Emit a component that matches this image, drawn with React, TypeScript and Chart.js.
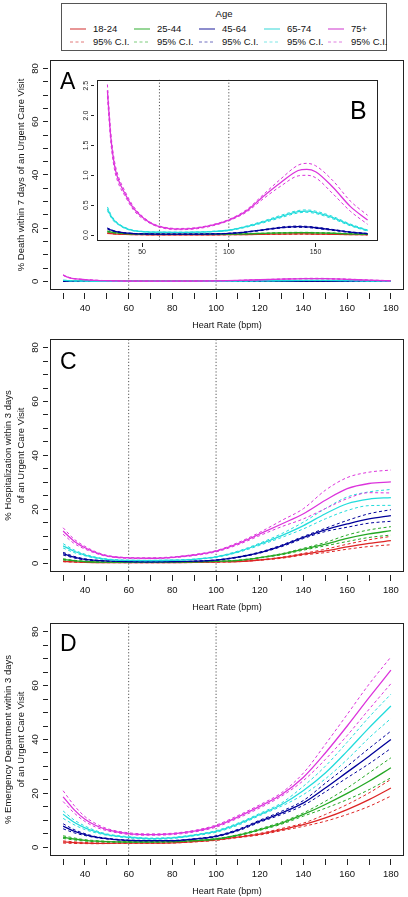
import React, { useEffect, useRef } from "react";
import { Chart, registerables } from "chart.js";

Chart.register(...registerables);

const FONT = '"Liberation Sans", Arial, Helvetica, sans-serif';

// ---------------- categories / styling keys ----------------
const AGE_GROUPS = ["18-24", "25-44", "45-64", "65-74", "75+"];
const CI_LABEL = "95% C.I.";
const LEGEND_TITLE = "Age";
const X_TITLE = "Heart Rate (bpm)";
const Y_TITLE_A = "% Death within 7 days of an Urgent Care Visit";
const Y_TITLE_C = ["% Hospitalization within 3 days", "of an Urgent Care Visit"];
const Y_TITLE_D = ["% Emergency Department within 3 days", "of an Urgent Care Visit"];
const LINE_COLORS = ["#dd2424", "#24a824", "#00009a", "#22dcdc", "#dc34dc"];
const LEGEND_COLORS = ["#e27b7b", "#7dcc7d", "#7070c0", "#7fe6e6", "#e07fe0"];

// ---------------- ticks ----------------
const X_TICKS = [30, 40, 50, 60, 70, 80, 90, 100, 110, 120, 130, 140, 150, 160, 170, 180];
const X_LABELED = [40, 60, 80, 100, 120, 140, 160, 180];
const Y_TICKS = [0, 5, 10, 15, 20, 25, 30, 35, 40, 45, 50, 55, 60, 65, 70, 75, 80];
const Y_LABELED = [0, 20, 40, 60, 80];
const B_X_TICKS = [50, 100, 150];
const B_Y_TICKS = [0, 0.5, 1, 1.5, 2, 2.5];
const REF_HR = [60, 100];

// ---------------- Panel A / B : death within 7 days ----------------
const HR_A = [30, 31, 32, 34, 36, 40, 45, 50, 55, 60, 70, 80, 90, 100, 110, 120, 130, 140, 145, 150, 160, 170, 180];
const A_18_24 = [0.03, 0.028, 0.025, 0.02, 0.016, 0.012, 0.008, 0.006, 0.005, 0.005, 0.005, 0.005, 0.005, 0.006, 0.008, 0.012, 0.016, 0.018, 0.018, 0.016, 0.012, 0.008, 0.005];
const A_18_24_HI = [0.036, 0.033, 0.03, 0.024, 0.019, 0.014, 0.01, 0.007, 0.006, 0.006, 0.006, 0.006, 0.006, 0.007, 0.01, 0.014, 0.019, 0.021, 0.021, 0.019, 0.015, 0.01, 0.007];
const A_18_24_LO = [0.024, 0.023, 0.02, 0.016, 0.013, 0.01, 0.006, 0.005, 0.004, 0.004, 0.004, 0.004, 0.004, 0.005, 0.006, 0.01, 0.013, 0.015, 0.015, 0.013, 0.009, 0.006, 0.003];
const A_25_44 = [0.06, 0.055, 0.05, 0.04, 0.034, 0.025, 0.018, 0.014, 0.012, 0.011, 0.01, 0.01, 0.011, 0.014, 0.02, 0.028, 0.036, 0.04, 0.04, 0.037, 0.03, 0.02, 0.012];
const A_25_44_HI = [0.068, 0.062, 0.056, 0.045, 0.038, 0.028, 0.02, 0.016, 0.013, 0.012, 0.011, 0.011, 0.012, 0.016, 0.022, 0.031, 0.04, 0.045, 0.045, 0.042, 0.034, 0.023, 0.015];
const A_25_44_LO = [0.052, 0.048, 0.044, 0.035, 0.03, 0.022, 0.016, 0.012, 0.011, 0.01, 0.009, 0.009, 0.01, 0.012, 0.018, 0.025, 0.032, 0.035, 0.035, 0.032, 0.026, 0.017, 0.009];
const A_45_64 = [0.11, 0.095, 0.085, 0.065, 0.052, 0.035, 0.025, 0.02, 0.017, 0.016, 0.015, 0.016, 0.019, 0.028, 0.05, 0.085, 0.125, 0.14, 0.135, 0.122, 0.085, 0.048, 0.022];
const A_45_64_HI = [0.12, 0.104, 0.093, 0.071, 0.057, 0.038, 0.027, 0.022, 0.018, 0.017, 0.016, 0.017, 0.02, 0.03, 0.054, 0.091, 0.133, 0.15, 0.145, 0.132, 0.093, 0.054, 0.026];
const A_45_64_LO = [0.1, 0.086, 0.077, 0.059, 0.047, 0.032, 0.023, 0.018, 0.016, 0.015, 0.014, 0.015, 0.018, 0.026, 0.046, 0.079, 0.117, 0.13, 0.125, 0.112, 0.077, 0.042, 0.018];
const A_65_74 = [0.44, 0.38, 0.32, 0.24, 0.19, 0.12, 0.075, 0.058, 0.05, 0.047, 0.045, 0.048, 0.058, 0.08, 0.14, 0.22, 0.31, 0.39, 0.4, 0.38, 0.29, 0.17, 0.075];
const A_65_74_HI = [0.47, 0.41, 0.34, 0.26, 0.2, 0.13, 0.08, 0.062, 0.053, 0.05, 0.048, 0.051, 0.062, 0.085, 0.15, 0.235, 0.33, 0.41, 0.42, 0.4, 0.31, 0.185, 0.085];
const A_65_74_LO = [0.41, 0.35, 0.3, 0.22, 0.18, 0.11, 0.07, 0.054, 0.047, 0.044, 0.042, 0.045, 0.054, 0.075, 0.13, 0.205, 0.29, 0.37, 0.38, 0.36, 0.27, 0.155, 0.065];
const A_75P = [2.42, 2.0, 1.62, 1.18, 0.95, 0.7, 0.45, 0.3, 0.2, 0.14, 0.1, 0.11, 0.16, 0.25, 0.4, 0.65, 0.88, 1.08, 1.1, 1.06, 0.8, 0.48, 0.25];
const A_75P_HI = [2.52, 2.09, 1.7, 1.25, 1.01, 0.74, 0.48, 0.32, 0.21, 0.15, 0.11, 0.12, 0.17, 0.26, 0.42, 0.68, 0.94, 1.17, 1.2, 1.16, 0.91, 0.57, 0.33];
const A_75P_LO = [2.32, 1.91, 1.54, 1.11, 0.89, 0.66, 0.42, 0.28, 0.19, 0.13, 0.09, 0.1, 0.15, 0.24, 0.38, 0.61, 0.82, 0.99, 1.0, 0.96, 0.69, 0.4, 0.18];

// ---------------- Panels C / D ----------------
const HR_CD = [30, 35, 40, 45, 50, 60, 70, 80, 90, 100, 110, 120, 130, 140, 150, 160, 170, 180];

// C: hospitalization within 3 days
const C_18_24 = [0.75, 0.55, 0.4, 0.32, 0.3, 0.28, 0.28, 0.3, 0.35, 0.5, 0.7, 1.25, 2.1, 3.4, 4.6, 6.1, 7.4, 8.4];
const C_18_24_HI = [0.9, 0.65, 0.47, 0.37, 0.34, 0.32, 0.32, 0.34, 0.4, 0.55, 0.78, 1.35, 2.3, 3.7, 5.25, 7.1, 8.75, 10.0];
const C_18_24_LO = [0.6, 0.45, 0.33, 0.27, 0.26, 0.24, 0.24, 0.26, 0.3, 0.45, 0.62, 1.15, 1.9, 3.1, 4.0, 5.25, 6.25, 6.9];
const C_25_44 = [1.5, 1.0, 0.7, 0.5, 0.45, 0.4, 0.4, 0.45, 0.55, 0.75, 1.1, 2.1, 3.4, 5.25, 7.1, 9.25, 10.9, 12.1];
const C_25_44_HI = [1.7, 1.15, 0.8, 0.55, 0.5, 0.45, 0.45, 0.5, 0.6, 0.8, 1.2, 2.2, 3.6, 5.6, 7.75, 10.5, 12.4, 13.6];
const C_25_44_LO = [1.3, 0.9, 0.6, 0.45, 0.4, 0.35, 0.35, 0.4, 0.5, 0.7, 1.0, 2.0, 3.2, 4.9, 6.5, 8.1, 9.6, 10.5];
const C_45_64 = [3.6, 2.3, 1.5, 1.1, 0.9, 0.65, 0.6, 0.65, 0.8, 1.2, 2.3, 4.0, 6.5, 9.6, 12.4, 14.6, 16.5, 17.7];
const C_45_64_HI = [4.1, 2.6, 1.7, 1.2, 0.95, 0.7, 0.65, 0.7, 0.85, 1.3, 2.45, 4.2, 6.8, 10.0, 13.0, 15.9, 18.4, 19.9];
const C_45_64_LO = [3.1, 2.0, 1.3, 1.0, 0.85, 0.6, 0.55, 0.6, 0.75, 1.1, 2.15, 3.8, 6.2, 9.2, 11.8, 13.4, 14.9, 15.6];
const C_65_74 = [6.5, 4.5, 3.1, 2.1, 1.5, 1.1, 1.05, 1.15, 1.5, 2.4, 4.3, 7.1, 10.3, 14.0, 18.4, 22.1, 23.8, 24.4];
const C_65_74_HI = [7.3, 5.0, 3.4, 2.3, 1.65, 1.2, 1.15, 1.25, 1.6, 2.55, 4.55, 7.5, 11.0, 15.3, 20.3, 24.6, 26.5, 27.4];
const C_65_74_LO = [5.7, 4.0, 2.8, 1.9, 1.35, 1.0, 0.95, 1.05, 1.4, 2.25, 4.05, 6.7, 9.6, 12.8, 16.5, 19.6, 21.4, 21.5];
const C_75P = [12.0, 8.2, 5.8, 4.0, 2.8, 2.0, 1.9, 2.25, 3.1, 4.5, 7.3, 10.9, 14.6, 18.4, 23.4, 27.7, 29.6, 30.2];
const C_75P_HI = [13.2, 9.0, 6.3, 4.3, 3.0, 2.15, 2.05, 2.4, 3.3, 4.75, 7.7, 11.5, 15.9, 20.3, 27.1, 31.8, 33.8, 34.6];
const C_75P_LO = [10.8, 7.4, 5.3, 3.7, 2.6, 1.85, 1.75, 2.1, 2.9, 4.25, 6.9, 10.3, 13.6, 16.5, 20.3, 24.0, 26.2, 26.1];

// D: emergency department within 3 days
const D_18_24 = [2.0, 1.75, 1.6, 1.5, 1.5, 1.6, 1.6, 1.7, 2.1, 2.75, 3.8, 4.9, 6.6, 8.4, 10.9, 14.0, 17.7, 22.0];
const D_18_24_HI = [2.4, 2.05, 1.8, 1.65, 1.6, 1.7, 1.7, 1.8, 2.2, 2.9, 4.0, 5.2, 7.0, 9.0, 12.2, 15.9, 20.2, 25.2];
const D_18_24_LO = [1.6, 1.45, 1.4, 1.35, 1.4, 1.5, 1.5, 1.6, 2.0, 2.6, 3.6, 4.6, 6.2, 7.8, 9.7, 12.2, 15.2, 19.0];
const D_25_44 = [3.75, 3.1, 2.6, 2.3, 2.1, 2.0, 2.0, 2.1, 2.5, 3.1, 4.5, 6.6, 9.0, 12.2, 15.9, 20.0, 24.5, 29.5];
const D_25_44_HI = [4.3, 3.5, 2.85, 2.5, 2.25, 2.1, 2.1, 2.2, 2.6, 3.25, 4.7, 6.9, 9.4, 12.8, 17.1, 22.0, 27.6, 33.2];
const D_25_44_LO = [3.3, 2.75, 2.35, 2.1, 1.95, 1.9, 1.9, 2.0, 2.4, 2.95, 4.3, 6.3, 8.6, 11.6, 14.5, 17.7, 21.4, 25.8];
const D_45_64 = [7.9, 6.0, 4.75, 3.8, 3.25, 2.6, 2.5, 2.5, 3.1, 4.1, 6.4, 9.7, 12.8, 16.5, 22.0, 27.9, 33.8, 40.0];
const D_45_64_HI = [8.75, 6.6, 5.1, 4.0, 3.4, 2.7, 2.6, 2.6, 3.2, 4.3, 6.7, 10.1, 13.4, 17.4, 23.8, 30.1, 36.7, 43.1];
const D_45_64_LO = [6.9, 5.4, 4.4, 3.6, 3.1, 2.5, 2.4, 2.4, 3.0, 3.9, 6.1, 9.3, 12.2, 15.6, 20.6, 25.8, 31.0, 36.7];
const D_65_74 = [12.25, 9.3, 7.25, 5.8, 4.75, 3.75, 3.25, 3.5, 4.5, 5.9, 8.6, 12.2, 15.9, 21.1, 27.6, 35.7, 44.3, 52.4];
const D_65_74_HI = [13.5, 10.2, 7.9, 6.2, 5.0, 3.95, 3.45, 3.7, 4.7, 6.2, 9.0, 12.6, 16.5, 22.7, 30.1, 39.0, 48.3, 56.8];
const D_65_74_LO = [10.75, 8.4, 6.6, 5.4, 4.5, 3.55, 3.05, 3.3, 4.3, 5.6, 8.2, 11.8, 15.3, 19.6, 25.4, 32.6, 40.6, 47.8];
const D_75P = [18.75, 14.0, 10.4, 8.1, 6.6, 5.1, 4.75, 5.0, 6.0, 7.9, 11.3, 15.2, 19.6, 26.0, 35.0, 45.0, 55.5, 65.7];
const D_75P_HI = [21.0, 15.6, 11.4, 8.8, 7.0, 5.4, 5.0, 5.25, 6.3, 8.3, 11.8, 15.8, 20.3, 27.6, 38.2, 49.3, 60.5, 70.6];
const D_75P_LO = [17.0, 12.8, 9.6, 7.5, 6.2, 4.8, 4.5, 4.75, 5.7, 7.5, 10.8, 14.6, 19.0, 24.8, 32.6, 41.5, 51.2, 60.7];

// ---------------- helpers ----------------
type Series = { mean: number[]; hi: number[]; lo: number[] };

const GROUPS_A: Series[] = [
  { mean: A_18_24, hi: A_18_24_HI, lo: A_18_24_LO },
  { mean: A_25_44, hi: A_25_44_HI, lo: A_25_44_LO },
  { mean: A_45_64, hi: A_45_64_HI, lo: A_45_64_LO },
  { mean: A_65_74, hi: A_65_74_HI, lo: A_65_74_LO },
  { mean: A_75P, hi: A_75P_HI, lo: A_75P_LO },
];
const GROUPS_C: Series[] = [
  { mean: C_18_24, hi: C_18_24_HI, lo: C_18_24_LO },
  { mean: C_25_44, hi: C_25_44_HI, lo: C_25_44_LO },
  { mean: C_45_64, hi: C_45_64_HI, lo: C_45_64_LO },
  { mean: C_65_74, hi: C_65_74_HI, lo: C_65_74_LO },
  { mean: C_75P, hi: C_75P_HI, lo: C_75P_LO },
];
const GROUPS_D: Series[] = [
  { mean: D_18_24, hi: D_18_24_HI, lo: D_18_24_LO },
  { mean: D_25_44, hi: D_25_44_HI, lo: D_25_44_LO },
  { mean: D_45_64, hi: D_45_64_HI, lo: D_45_64_LO },
  { mean: D_65_74, hi: D_65_74_HI, lo: D_65_74_LO },
  { mean: D_75P, hi: D_75P_HI, lo: D_75P_LO },
];

function lineDs(hr: number[], ys: number[], color: string, dashed: boolean, label: string) {
  return {
    label,
    data: hr.map((x, i) => ({ x, y: ys[i] })),
    borderColor: color,
    backgroundColor: color,
    borderWidth: dashed ? 1 : 1.3,
    borderDash: dashed ? [3, 2.5] : [],
    pointRadius: 0,
    cubicInterpolationMode: "monotone",
    fill: false,
  };
}

function makeDatasets(hr: number[], groups: Series[], refLo: number, refHi: number) {
  const ds: any[] = [];
  for (let g = groups.length - 1; g >= 0; g--) {
    const c = LINE_COLORS[g];
    ds.push(lineDs(hr, groups[g].mean, c, false, AGE_GROUPS[g]));
    ds.push(lineDs(hr, groups[g].hi, c, true, AGE_GROUPS[g] + " " + CI_LABEL));
    ds.push(lineDs(hr, groups[g].lo, c, true, AGE_GROUPS[g] + " " + CI_LABEL));
  }
  REF_HR.forEach((v) =>
    ds.push({
      label: "ref " + v,
      data: [
        { x: v, y: refLo },
        { x: v, y: refHi },
      ],
      borderColor: "#555",
      borderWidth: 1,
      borderDash: [1.2, 2],
      pointRadius: 0,
      fill: false,
    })
  );
  return ds;
}

function framePlugin(letter: string, dx: number, dy: number, size: number, fromRight: boolean, whiteBg: boolean) {
  return {
    id: "frame",
    beforeDraw(chart: any) {
      if (!whiteBg) return;
      const { ctx, chartArea: a } = chart;
      ctx.save();
      ctx.fillStyle = "#fff";
      ctx.fillRect(a.left, a.top, a.right - a.left, a.bottom - a.top);
      ctx.restore();
    },
    afterDraw(chart: any) {
      const { ctx, chartArea: a } = chart;
      ctx.save();
      ctx.strokeStyle = "#222";
      ctx.lineWidth = 1;
      ctx.setLineDash([]);
      ctx.strokeRect(Math.round(a.left) + 0.5, Math.round(a.top) + 0.5, Math.round(a.right - a.left) - 1, Math.round(a.bottom - a.top) - 1);
      ctx.fillStyle = "#000";
      ctx.font = `${size}px ${FONT}`;
      ctx.textBaseline = "alphabetic";
      ctx.textAlign = "left";
      const x = fromRight ? a.right - dx : a.left + dx;
      ctx.fillText(letter, x, a.top + dy);
      ctx.restore();
    },
  };
}

type MainSpec = {
  hr: number[];
  groups: Series[];
  yTitle: string | string[];
  titlePad: number;
  padTop: number;
  letter: string;
  letterDy: number;
  refHi: number;
};

function mainConfig(s: MainSpec): any {
  return {
    type: "line",
    data: { datasets: makeDatasets(s.hr, s.groups, -4, s.refHi) },
    options: {
      responsive: false,
      maintainAspectRatio: false,
      animation: false,
      devicePixelRatio: 1,
      events: [],
      layout: { autoPadding: false, padding: { top: s.padTop, right: 4, left: 0, bottom: 0 } },
      plugins: { legend: { display: false }, tooltip: { enabled: false }, title: { display: false } },
      scales: {
        x: {
          type: "linear",
          min: 24,
          max: 186,
          afterBuildTicks: (sc: any) => {
            sc.ticks = X_TICKS.map((v) => ({ value: v }));
          },
          afterFit: (sc: any) => {
            sc.height = 41;
          },
          border: { display: false },
          grid: {
            display: true,
            drawOnChartArea: false,
            drawTicks: true,
            tickLength: 9,
            tickColor: "#222",
            tickWidth: 1,
            tickBorderDash: [0, 3, 6, 40],
          },
          ticks: {
            autoSkip: false,
            maxRotation: 0,
            minRotation: 0,
            padding: 4,
            color: "#111",
            font: { family: FONT, size: 9.5 },
            callback: (v: any) => (X_LABELED.includes(Number(v)) ? String(v) : ""),
          },
          title: {
            display: true,
            text: X_TITLE,
            color: "#111",
            font: { family: FONT, size: 9 },
            padding: 0,
          },
        },
        y: {
          type: "linear",
          min: -3.2,
          max: 83.2,
          afterBuildTicks: (sc: any) => {
            sc.ticks = Y_TICKS.map((v) => ({ value: v }));
          },
          afterFit: (sc: any) => {
            sc.width = 50;
          },
          border: { display: false },
          grid: {
            display: true,
            drawOnChartArea: false,
            drawTicks: true,
            tickLength: 7,
            tickColor: "#222",
            tickWidth: 1,
            tickBorderDash: [5, 40],
          },
          ticks: {
            autoSkip: false,
            minRotation: 90,
            maxRotation: 90,
            crossAlign: "center",
            padding: 2.2,
            color: "#111",
            font: { family: FONT, size: 9.5 },
            callback: (v: any) => (Y_LABELED.includes(Number(v)) ? String(v) : ""),
          },
          title: {
            display: true,
            text: s.yTitle,
            color: "#111",
            font: { family: FONT, size: 9.5, lineHeight: 1.41 },
            padding: { top: s.titlePad, bottom: 0 },
          },
        },
      },
    },
    plugins: [framePlugin(s.letter, 10, s.letterDy, 23, false, false)],
  };
}

function insetConfig(): any {
  return {
    type: "line",
    data: { datasets: makeDatasets(HR_A, GROUPS_A, -0.2, 2.8) },
    options: {
      responsive: false,
      maintainAspectRatio: false,
      animation: false,
      devicePixelRatio: 1,
      events: [],
      layout: { autoPadding: false, padding: { top: 4, right: 4, left: 0, bottom: 0 } },
      plugins: { legend: { display: false }, tooltip: { enabled: false }, title: { display: false } },
      scales: {
        x: {
          type: "linear",
          min: 24,
          max: 186,
          afterBuildTicks: (sc: any) => {
            sc.ticks = B_X_TICKS.map((v) => ({ value: v }));
          },
          afterFit: (sc: any) => {
            sc.height = 24;
          },
          border: { display: false },
          grid: {
            display: true,
            drawOnChartArea: false,
            tickLength: 6,
            tickColor: "#222",
            tickBorderDash: [0, 2, 4, 40],
          },
          ticks: {
            autoSkip: false,
            maxRotation: 0,
            minRotation: 0,
            padding: 1,
            color: "#222",
            font: { family: FONT, size: 7 },
            callback: (v: any) => String(v),
          },
        },
        y: {
          type: "linear",
          min: -0.1,
          max: 2.6,
          afterBuildTicks: (sc: any) => {
            sc.ticks = B_Y_TICKS.map((v) => ({ value: v }));
          },
          afterFit: (sc: any) => {
            sc.width = 27;
          },
          border: { display: false },
          grid: {
            display: true,
            drawOnChartArea: false,
            tickLength: 6,
            tickColor: "#222",
            tickBorderDash: [3, 40],
          },
          ticks: {
            autoSkip: false,
            minRotation: 90,
            maxRotation: 90,
            crossAlign: "center",
            padding: 0.5,
            color: "#222",
            font: { family: FONT, size: 7 },
            callback: (v: any) => Number(v).toFixed(1),
          },
        },
      },
    },
    plugins: [framePlugin("B", 28, 39, 25, true, true)],
  };
}

function ChartCanvas(props: { left: number; top: number; width: number; height: number; build: () => any; z?: number }) {
  const ref = useRef<HTMLCanvasElement | null>(null);
  useEffect(() => {
    if (!ref.current) return;
    const chart = new Chart(ref.current, props.build());
    return () => chart.destroy();
  }, []);
  return (
    <canvas
      ref={ref}
      width={props.width}
      height={props.height}
      style={{
        position: "absolute",
        left: props.left,
        top: props.top,
        width: props.width,
        height: props.height,
        zIndex: props.z ?? 1,
      }}
    />
  );
}

function LegendBox() {
  const textStarts = [93, 157, 222, 287, 351];
  const boxLeft = 62;
  const boxTop = 4;
  const rows = [25.3, 37.7];
  return (
    <div
      style={{
        position: "absolute",
        left: 61,
        top: 3,
        width: 326,
        height: 48,
        border: "1px solid #555",
        boxSizing: "border-box",
        fontFamily: FONT,
        fontSize: 9.5,
        color: "#111",
        background: "#fff",
        zIndex: 3,
      }}
    >
      <div style={{ position: "absolute", left: 0, top: 3.5, width: "100%", textAlign: "center", lineHeight: "12px" }}>
        {LEGEND_TITLE}
      </div>
      {AGE_GROUPS.map((g, i) =>
        [g, CI_LABEL].map((txt, r) => (
          <React.Fragment key={g + r}>
            <svg
              width={16}
              height={4}
              style={{ position: "absolute", left: textStarts[i] - 23 - boxLeft, top: rows[r] - 2 }}
            >
              <line
                x1={0}
                y1={2}
                x2={16}
                y2={2}
                stroke={LEGEND_COLORS[i]}
                strokeWidth={r === 0 ? 1.6 : 1}
                strokeDasharray={r === 0 ? undefined : "3 2.5"}
              />
            </svg>
            <div
              style={{
                position: "absolute",
                left: textStarts[i] - boxLeft,
                top: rows[r] - 6 - 0 * boxTop,
                lineHeight: "12px",
                whiteSpace: "nowrap",
              }}
            >
              {txt}
            </div>
          </React.Fragment>
        ))
      )}
    </div>
  );
}

export default function App() {
  return (
    <div
      style={{
        position: "absolute",
        left: 0,
        top: 0,
        width: 408,
        height: 897,
        background: "#fff",
        overflow: "hidden",
        fontFamily: FONT,
      }}
    >
      <LegendBox />
      <ChartCanvas
        left={0}
        top={52}
        width={408}
        height={279}
        build={() =>
          mainConfig({
            hr: HR_A,
            groups: GROUPS_A,
            yTitle: Y_TITLE_A,
            titlePad: 15,
            padTop: 6,
            letter: "A",
            letterDy: 29,
            refHi: 14.5,
          })
        }
      />
      <ChartCanvas left={70} top={75} width={312} height={190} build={insetConfig} z={2} />
      <ChartCanvas
        left={0}
        top={331}
        width={408}
        height={282}
        build={() =>
          mainConfig({
            hr: HR_CD,
            groups: GROUPS_C,
            yTitle: Y_TITLE_C,
            titlePad: 1.6,
            padTop: 7,
            letter: "C",
            letterDy: 30,
            refHi: 90,
          })
        }
      />
      <ChartCanvas
        left={0}
        top={613}
        width={408}
        height={284}
        build={() =>
          mainConfig({
            hr: HR_CD,
            groups: GROUPS_D,
            yTitle: Y_TITLE_D,
            titlePad: 1.6,
            padTop: 10,
            letter: "D",
            letterDy: 28,
            refHi: 90,
          })
        }
      />
    </div>
  );
}
